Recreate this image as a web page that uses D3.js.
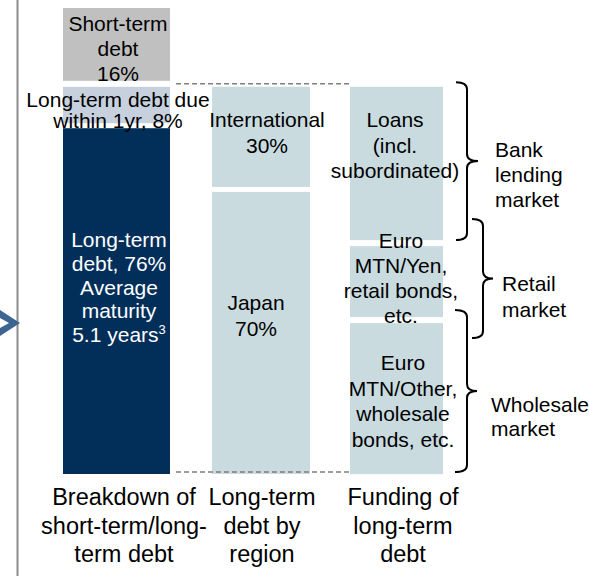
<!DOCTYPE html>
<html><head><meta charset="utf-8">
<script src="https://cdn.jsdelivr.net/npm/d3@7"></script>
<style>body{margin:0;background:#fff}svg{display:block}text{font-family:"Liberation Sans",Arial,sans-serif}</style>
</head><body><svg id="c" width="589" height="576"></svg>
<script>
// ---- data ----
const columns = ["debtTerm", "region", "funding"];
const columnTitles = [["Breakdown of", "short-term/long-", "term debt"], ["Long-term", "debt by", "region"], ["Funding of", "long-term", "debt"]];
const termSegments = ["Short-term debt", "Long-term debt due within 1yr", "Long-term debt"];
const termValues = [16, 8, 76];
const termLabels = [["Short-term", "debt", "16%"], ["Long-term debt due", "within 1yr, 8%"], ["Long-term", "debt, 76%", "Average", "maturity", "5.1 years|3"]];
const regionSegments = ["International", "Japan"];
const regionValues = [22, 62];          // drawn height, share of total debt
const regionLabels = [["International", "30%"], ["Japan", "70%"]];
const fundingSegments = ["Loans", "Euro MTN/Yen", "Euro MTN/Other"];
const fundingValues = [33.7, 15.6, 33.2];
const fundingLabels = [["Loans", "(incl.", "subordinated)"], ["Euro", "MTN/Yen,", "retail bonds,", "etc."], ["Euro", "MTN/Other,", "wholesale", "bonds, etc."]];
const markets = ["Bank lending market", "Retail market", "Wholesale market"];
const marketLabels = [["Bank", "lending", "market"], ["Retail", "market"], ["Wholesale", "market"]];
const marketStart = [16.3, 46.4, 66.4];
const marketEnd = [51, 72.5, 102];

// ---- styles / layout ----
const FONT = 21;
const colors = {
  "Short-term debt": "#c0c0c0",
  "Long-term debt due within 1yr": "#c7d1dd",
  "Long-term debt": "#022f5a",
  "International": "#c9dbdf", "Japan": "#c9dbdf",
  "Loans": "#c9dbdf", "Euro MTN/Yen": "#c9dbdf", "Euro MTN/Other": "#c9dbdf"
};
const labelLayout = {
  "Short-term debt": {dx: 1.5, dy: 23, lh: 25},
  "Long-term debt due within 1yr": {dx: 1.5, dy: 20.2, lh: 21},
  "Long-term debt": {dx: 2.5, dy: 118.8, lh: 23.8, fill: "#fff"},
  "International": {dx: 6, dy: 40, lh: 26},
  "Japan": {dx: -5, dy: 118, lh: 26},
  "Loans": {dx: -1.5, dy: 40, lh: 25.8},
  "Euro MTN/Yen": {dx: 4.5, dy: 2, lh: 25},
  "Euro MTN/Other": {dx: 6.5, dy: 47, lh: 25.5}
};

const svg = d3.select("#c");
const y = d3.scaleLinear().domain([0, 100]).range([8, 463]);
const xLeft = d3.scaleOrdinal().domain(columns).range([63, 212, 350]);
const xWidth = d3.scaleOrdinal().domain(columns).range([107, 98, 93]);
const titleX = d3.scaleOrdinal().domain(columns).range([124, 262, 403]);
const gapPx = d3.scaleOrdinal().domain(columns).range([[6, 5], [5], [6, 6]]);

function stack(col, names, values, labels, startPx) {
  let pos = startPx;
  return names.map((n, i) => {
    const h = y(values[i]) - y(0);
    const seg = {col, name: n, label: labels[i], top: pos, bottom: pos + h};
    pos = pos + h + (gapPx(col)[i] || 0);
    return seg;
  });
}
const col1 = stack("debtTerm", termSegments, termValues, termLabels, y(0));
const restTop = col1[1].top;
const col2 = stack("region", regionSegments, regionValues, regionLabels, restTop);
const col3 = stack("funding", fundingSegments, fundingValues, fundingLabels, restTop);
const segs = col1.concat(col2, col3);

// left rule and chevron
svg.append("line").attr("x1", 17.5).attr("x2", 17.5).attr("y1", 0).attr("y2", 576)
  .attr("stroke", "#8c8c8c").attr("stroke-width", 2);
svg.append("polygon").attr("points", "0,310 20,323 0,336 0,328 9,323 0,318").attr("fill", "#3d6591");

// bars
svg.append("g").selectAll("rect").data(segs).join("rect")
  .attr("x", d => xLeft(d.col)).attr("width", d => xWidth(d.col))
  .attr("y", d => d.top).attr("height", d => d.bottom - d.top)
  .attr("fill", d => colors[d.name]);

// dashed connectors
const dashY = [(col1[0].bottom + col1[1].top) / 2, col1[2].bottom - 2];
svg.append("g").selectAll("line").data(dashY).join("line")
  .attr("x1", xLeft("debtTerm") + xWidth("debtTerm") + 6).attr("x2", xLeft("funding"))
  .attr("y1", d => d).attr("y2", d => d)
  .attr("stroke", "#808080").attr("stroke-width", 1.5).attr("stroke-dasharray", "5,3");

// segment labels
segs.forEach(s => {
  const L = labelLayout[s.name];
  const cx = xLeft(s.col) + xWidth(s.col) / 2 + L.dx;
  const t = svg.append("text").attr("text-anchor", "middle").attr("font-size", FONT)
    .attr("fill", L.fill || "#000");
  s.label.forEach((line, i) => {
    const ts = t.append("tspan").attr("x", cx).attr("y", s.top + L.dy + i * L.lh);
    if (line.includes("|")) {
      const [a, b] = line.split("|");
      ts.text(a);
      t.append("tspan").attr("font-size", 13).attr("dy", -8).text(b);
    } else ts.text(line);
  });
});

// column titles
columns.forEach((c, i) => {
  const t = svg.append("text").attr("text-anchor", "middle").attr("font-size", 23.5).attr("fill", "#000");
  columnTitles[i].forEach((line, j) => t.append("tspan").attr("x", titleX(c)).attr("y", 505 + j * 28.5).text(line));
});

// braces
const braceX0 = d3.scaleOrdinal().domain(markets).range([456, 472, 455]);
const braceXv = d3.scaleOrdinal().domain(markets).range([467, 483, 467]);
const braceXt = d3.scaleOrdinal().domain(markets).range([478, 493, 477]);
const mLabelX = d3.scaleOrdinal().domain(markets).range([495, 502, 491]);
const mLabelDy = d3.scaleOrdinal().domain(markets).range([-4, 13, 20.7]);
const mLabelLh = d3.scaleOrdinal().domain(markets).range([25, 26, 24]);
function brace(x0, xv, xt, y0, y1) {
  const r = 7, ym = (y0 + y1) / 2;
  return `M${x0},${y0} Q${xv},${y0} ${xv},${y0 + r} L${xv},${ym - r} Q${xv},${ym} ${xt},${ym} Q${xv},${ym} ${xv},${ym + r} L${xv},${y1 - r} Q${xv},${y1} ${x0},${y1}`;
}
markets.forEach((m, i) => {
  const y0 = y(marketStart[i]), y1 = y(marketEnd[i]), ym = (y0 + y1) / 2;
  svg.append("path").attr("d", brace(braceX0(m), braceXv(m), braceXt(m), y0, y1))
    .attr("fill", "none").attr("stroke", "#000").attr("stroke-width", 2);
  const t = svg.append("text").attr("font-size", FONT).attr("fill", "#000");
  marketLabels[i].forEach((line, j) => t.append("tspan").attr("x", mLabelX(m)).attr("y", ym + mLabelDy(m) + j * mLabelLh(m)).text(line));
});
</script></body></html>
